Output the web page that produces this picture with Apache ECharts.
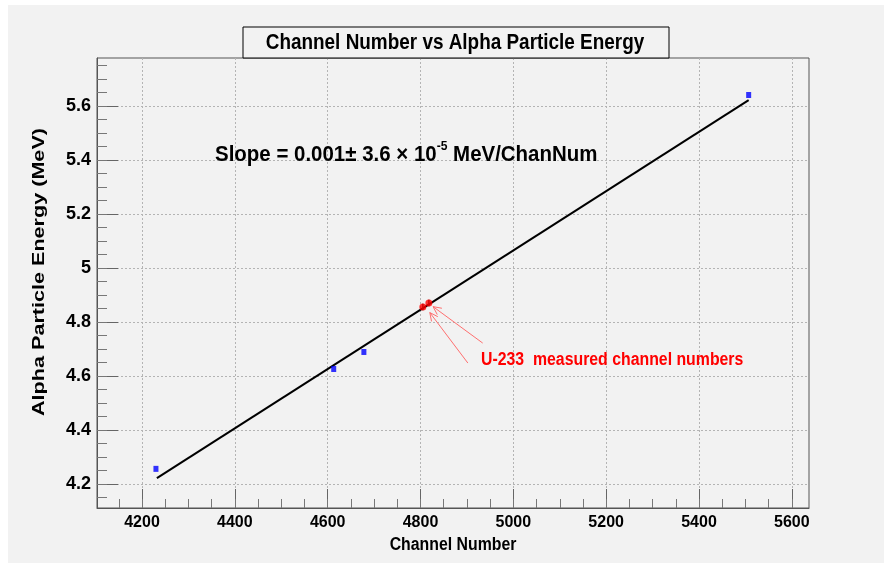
<!DOCTYPE html>
<html>
<head>
<meta charset="utf-8">
<script src="https://cdn.jsdelivr.net/npm/echarts@6/dist/echarts.min.js"></script>
<style>
  html, body { margin: 0; padding: 0; background: #fff; }
  #chart { width: 884px; height: 563px; }
</style>
</head>
<body>
<div id="chart"></div>
<script>
/* ── Data ── */
// calibration sources: [channel, alpha energy MeV]
const calibPoints = [[4230, 4.256], [4613, 4.626], [4678, 4.689], [5507, 5.641]];
// linear fit drawn through the calibration points
const fitLine = [[4232, 4.222], [5507, 5.622]];
// U-233 measured channel numbers and their errors
const u233Points = [[4805, 4.856], [4818, 4.870]];
const u233Err = [0.012, 0.012];
// annotation arrows: [tail, head]
const arrows = [
  [[4934, 4.722], [4827, 4.857]],
  [[4902, 4.648], [4820, 4.835]],
];

const xMajor = [4200, 4400, 4600, 4800, 5000, 5200, 5400, 5600];
const yMajor = [4.2, 4.4, 4.6, 4.8, 5.0, 5.2, 5.4, 5.6];
const xMinor = [];
for (let v = 4150; v <= 5600; v += 50) xMinor.push(v);
const yMinor = [];
for (let v = 4150; v <= 5750; v += 50) yMinor.push(v / 1000);

const BG = '#f2f2f2';
const SANS = "'Liberation Sans', Arial, sans-serif";

const chart = echarts.init(document.getElementById('chart'));

const labelStyle = { color: '#000', fontFamily: SANS, fontWeight: 'bold' };
const gridLine = { show: true, lineStyle: { color: '#b4b4b4', type: [2, 2], width: 1 } };

function errorBars(params, api) {
  const x = api.value(0), y = api.value(1), e = api.value(2);
  const a = api.coord([x, y - e]);
  const b = api.coord([x, y + e]);
  return {
    type: 'line',
    shape: { x1: a[0], y1: a[1], x2: b[0], y2: b[1] },
    style: { stroke: '#222', lineWidth: 1.5 },
  };
}

function arrowItem(params, api) {
  const t = api.coord([api.value(0), api.value(1)]);
  const h = api.coord([api.value(2), api.value(3)]);
  const ang = Math.atan2(t[1] - h[1], t[0] - h[0]);
  const len = 9, spread = 0.45;
  const w1 = [h[0] + len * Math.cos(ang + spread), h[1] + len * Math.sin(ang + spread)];
  const w2 = [h[0] + len * Math.cos(ang - spread), h[1] + len * Math.sin(ang - spread)];
  const style = { stroke: '#ff6f6f', lineWidth: 1, fill: null };
  return {
    type: 'group',
    children: [
      { type: 'line', shape: { x1: t[0], y1: t[1], x2: h[0], y2: h[1] }, style },
      { type: 'polyline', shape: { points: [w1, h, w2] }, style },
    ],
  };
}

const option = {
  backgroundColor: BG,
  animation: false,
  grid: {
    left: 97, right: 75, top: 58, bottom: 55,
    show: true, borderColor: '#555', borderWidth: 1, backgroundColor: 'transparent',
  },
  xAxis: [
    {
      type: 'value', min: 4103, max: 5637,
      axisLine: { show: true, onZero: false, lineStyle: { color: '#555', width: 1 } },
      axisTick: { show: true, inside: true, length: 19, customValues: xMajor, lineStyle: { color: '#666' } },
      axisLabel: {
        show: true, customValues: xMajor, margin: 7, fontSize: 16, ...labelStyle,
        formatter: (v) => String(v),
      },
      splitLine: gridLine,
    },
    {
      type: 'value', min: 4103, max: 5637, position: 'bottom',
      axisLine: { show: false },
      axisTick: { show: true, inside: true, length: 9, customValues: xMinor, lineStyle: { color: '#777' } },
      axisLabel: { show: false },
      splitLine: { show: false },
    },
  ],
  yAxis: [
    {
      type: 'value', min: 4.111, max: 5.778,
      axisLine: { show: true, onZero: false, lineStyle: { color: '#555', width: 1 } },
      axisTick: { show: true, inside: true, length: 21, customValues: yMajor, lineStyle: { color: '#666' } },
      axisLabel: {
        show: true, customValues: yMajor, margin: 6, fontSize: 18, ...labelStyle,
        formatter: (v) => String(Math.round(v * 10) / 10),
      },
      splitLine: gridLine,
    },
    {
      type: 'value', min: 4.111, max: 5.778, position: 'left',
      axisLine: { show: false },
      axisTick: { show: true, inside: true, length: 10, customValues: yMinor, lineStyle: { color: '#777' } },
      axisLabel: { show: false },
      splitLine: { show: false },
    },
  ],
  series: [
    {
      type: 'line', data: fitLine, symbol: 'none',
      lineStyle: { color: '#000', width: 2 }, z: 3,
    },
    {
      type: 'scatter', data: calibPoints, symbol: 'rect', symbolSize: [5, 6],
      itemStyle: { color: '#0000ff' }, z: 4,
    },
    {
      type: 'custom', renderItem: errorBars, z: 4,
      data: u233Points.map((p, i) => [p[0], p[1], u233Err[i]]),
    },
    {
      type: 'scatter', data: u233Points, symbol: 'circle', symbolSize: 7,
      itemStyle: { color: '#ff0000' }, z: 5,
    },
    {
      type: 'custom', renderItem: arrowItem, z: 6,
      data: arrows.map((a) => [a[0][0], a[0][1], a[1][0], a[1][1]]),
    },
  ],
  graphic: [
    { type: 'rect', shape: { x: 0, y: 0, width: 8, height: 563 }, style: { fill: '#fff' } },
    { type: 'rect', shape: { x: 0, y: 0, width: 884, height: 5 }, style: { fill: '#fff' } },
    {
      type: 'rect', shape: { x: 243, y: 27, width: 426, height: 31 },
      style: { fill: BG, stroke: '#000', lineWidth: 1 }, z: 10,
    },
    {
      type: 'text', x: 455, y: 43, scaleX: 0.86, z: 11,
      style: {
        text: 'Channel Number vs Alpha Particle Energy', fill: '#000',
        font: 'bold 22px ' + SANS, align: 'center', verticalAlign: 'middle',
      },
    },
    {
      type: 'text', x: 215, y: 153, scaleX: 0.93, z: 11,
      style: {
        text: '{m|Slope = 0.001}{m|± 3.6 × 10}{s|-5}{m| MeV/ChanNum}',
        align: 'left', verticalAlign: 'middle',
        rich: {
          m: { font: 'bold 22px ' + SANS, fill: '#000', lineHeight: 26, verticalAlign: 'bottom' },
          s: { font: 'bold 13px ' + SANS, fill: '#000', lineHeight: 14, verticalAlign: 'top' },
        },
      },
    },
    {
      type: 'text', x: 481, y: 360, scaleX: 0.88, z: 11,
      style: {
        text: 'U-233  measured channel numbers', fill: '#ff0000',
        font: 'bold 18px ' + SANS, align: 'left', verticalAlign: 'middle',
      },
    },
    {
      type: 'text', x: 453, y: 545, scaleX: 0.88, z: 11,
      style: {
        text: 'Channel Number', fill: '#000',
        font: 'bold 18px ' + SANS, align: 'center', verticalAlign: 'middle',
      },
    },
    {
      type: 'text', x: 39, y: 272, rotation: Math.PI / 2, scaleX: 1.27, z: 11,
      style: {
        text: 'Alpha Particle Energy (MeV)', fill: '#000',
        font: 'bold 17px ' + SANS, align: 'center', verticalAlign: 'middle',
      },
    },
  ],
};

chart.setOption(option);
window.addEventListener('resize', () => chart.resize());
</script>
</body>
</html>
